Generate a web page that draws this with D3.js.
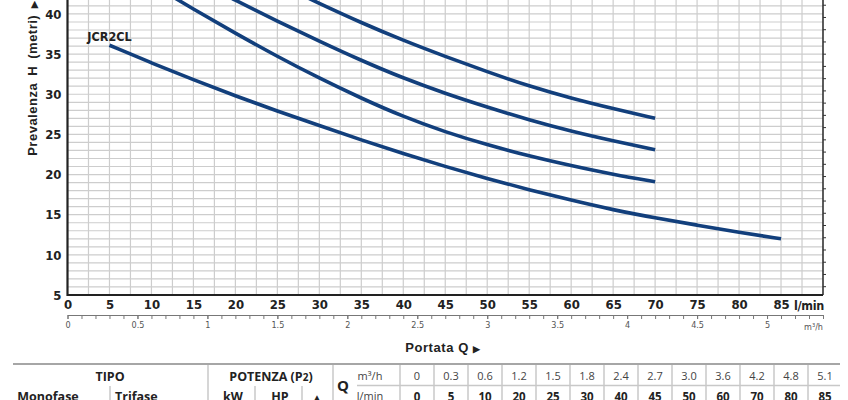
<!DOCTYPE html>
<html>
<head>
<meta charset="utf-8">
<script src="https://cdn.jsdelivr.net/npm/d3@7"></script>
<style>
body { margin: 0; background: white; }
</style>
</head>
<body>
<div id="vis"></div>
<script>
// curve values (flow in l/min, head in m)
const flowLong = [5, 10, 15, 20, 25, 30, 35, 40, 45, 50, 55, 60, 65, 70, 75, 80, 85];
const flowShort = [5, 10, 15, 20, 25, 30, 35, 40, 45, 50, 55, 60, 65, 70];
const headJCR2CL = [36.1, 33.9, 31.8, 29.8, 27.9, 26.1, 24.3, 22.6, 21.0, 19.5, 18.1, 16.8, 15.6, 14.6, 13.7, 12.8, 12.0];
const headCurveB = [46.9, 43.7, 40.6, 37.6, 34.7, 32.0, 29.5, 27.2, 25.3, 23.7, 22.3, 21.1, 20.0, 19.1];
const headCurveC = [50.3, 47.3, 44.4, 41.7, 39.1, 36.6, 34.2, 32.0, 30.1, 28.4, 26.8, 25.4, 24.2, 23.1];
const headCurveD = [54.8, 51.9, 49.1, 46.4, 43.8, 41.3, 38.9, 36.7, 34.7, 32.8, 31.0, 29.5, 28.2, 27.0];
const curveLabel = "JCR2CL";

// tick labels
const yTicks = [5, 10, 15, 20, 25, 30, 35, 40];
const xTicks = [0, 5, 10, 15, 20, 25, 30, 35, 40, 45, 50, 55, 60, 65, 70, 75, 80, 85];
const m3hTicks = [0, 0.5, 1, 1.5, 2, 2.5, 3, 3.5, 4, 4.5, 5];

// table below the chart
const tableM3h = ["0", "0.3", "0.6", "1.2", "1.5", "1.8", "2.4", "2.7", "3.0", "3.6", "4.2", "4.8", "5.1"];
const tableLmin = ["0", "5", "10", "20", "25", "30", "40", "45", "50", "60", "70", "80", "85"];

let width = 848;
let height = 400;

let plot = { left: 67.5, right: 823, bottom: 295 };

let svg = d3.select("#vis")
  .append("svg")
  .attr("width", width)
  .attr("height", height)
  .style("background", "white");

let narrow = "'Liberation Sans Narrow', 'Arial Narrow', 'DejaVu Sans Condensed', sans-serif";
let tableFont = "'Open Sans', 'Noto Sans', sans-serif";

// scales
let xScale = d3.scaleLinear()
  .domain([0, 90])
  .range([plot.left, plot.right]);

let yScale = d3.scaleLinear()
  .domain([5, 45])
  .range([plot.bottom, plot.bottom - 40 * 8.03]);

let m3Scale = d3.scaleLinear()
  .domain([0, 5.4])
  .range([plot.left, plot.right]);

let ftScale = d3.scaleLinear()
  .domain(yScale.domain().map(v => v / 0.3048))
  .range(yScale.range());

// grid
svg.append("g")
  .selectAll("line")
  .data(d3.range(2.5, 90, 2.5))
  .enter()
  .append("line")
  .attr("x1", d => xScale(d))
  .attr("x2", d => xScale(d))
  .attr("y1", yScale(45))
  .attr("y2", plot.bottom)
  .attr("stroke", "#cdcdcd")
  .attr("stroke-width", 1.2);

svg.append("g")
  .selectAll("line")
  .data(d3.range(6, 45, 1))
  .enter()
  .append("line")
  .attr("x1", plot.left)
  .attr("x2", plot.right)
  .attr("y1", d => yScale(d))
  .attr("y2", d => yScale(d))
  .attr("stroke", "#cdcdcd")
  .attr("stroke-width", 1.2);

// frame
svg.append("line")
  .attr("x1", plot.right).attr("x2", plot.right)
  .attr("y1", yScale(45)).attr("y2", plot.bottom)
  .attr("stroke", "#333").attr("stroke-width", 1.6);

svg.append("path")
  .attr("d", `M${plot.left},${yScale(45)}V${plot.bottom}H${plot.right}`)
  .attr("fill", "none")
  .attr("stroke", "#222")
  .attr("stroke-width", 2.2);

// small feet ticks on the right border
let ftAxis = svg.append("g")
  .attr("transform", `translate(${plot.right}, 0)`)
  .call(d3.axisRight(ftScale).tickValues(d3.range(20, 140, 5)).tickSize(3).tickFormat(""));
ftAxis.select(".domain").remove();
ftAxis.selectAll("line").attr("stroke", "#333");

// curves
let series = [
  { flow: flowLong, head: headJCR2CL },
  { flow: flowShort, head: headCurveB },
  { flow: flowShort, head: headCurveC },
  { flow: flowShort, head: headCurveD }
];

let line = d3.line()
  .x(d => xScale(d[0]))
  .y(d => yScale(d[1]))
  .curve(d3.curveBasis);

svg.append("g")
  .selectAll("path")
  .data(series)
  .enter()
  .append("path")
  .attr("d", s => line(d3.zip(s.flow, s.head)))
  .attr("fill", "none")
  .attr("stroke", "#123f7c")
  .attr("stroke-width", 3.6);

svg.append("text")
  .attr("x", xScale(flowLong[0]))
  .attr("y", yScale(headJCR2CL[0]) - 4)
  .attr("text-anchor", "middle")
  .style("font-family", narrow)
  .style("font-weight", "bold")
  .style("font-size", "12.5px")
  .style("fill", "#222")
  .text(curveLabel);

// y axis labels
let yAxis = svg.append("g")
  .attr("transform", `translate(${plot.left}, 0)`)
  .call(d3.axisLeft(yScale).tickValues(yTicks).tickSize(0).tickPadding(6));
yAxis.select(".domain").remove();
yAxis.selectAll("text")
  .style("font-family", narrow)
  .style("font-weight", "bold")
  .style("font-size", "13px")
  .style("fill", "#222");

// l/min axis labels
let xAxis = svg.append("g")
  .attr("transform", `translate(0, ${plot.bottom})`)
  .call(d3.axisBottom(xScale).tickValues(xTicks).tickSize(0).tickPadding(5));
xAxis.select(".domain").remove();
xAxis.selectAll("text")
  .style("font-family", narrow)
  .style("font-weight", "bold")
  .style("font-size", "13px")
  .style("fill", "#222");

svg.append("text")
  .attr("x", plot.right + 1)
  .attr("y", 309.5)
  .attr("text-anchor", "end")
  .style("font-family", narrow)
  .style("font-weight", "bold")
  .style("font-size", "12.5px")
  .style("letter-spacing", "-0.3px")
  .style("fill", "#222")
  .text("l/min");

// m3/h axis
let m3Minor = svg.append("g")
  .attr("transform", "translate(0, 315)")
  .call(d3.axisBottom(m3Scale).tickValues(d3.range(0, 5.45, 0.1)).tickSize(4).tickSizeOuter(0).tickFormat(""));
m3Minor.selectAll("line, path").attr("stroke", "#777").attr("stroke-width", 1);

let m3Axis = svg.append("g")
  .attr("transform", "translate(0, 315)")
  .call(d3.axisBottom(m3Scale).tickValues(m3hTicks).tickSize(4).tickPadding(3).tickFormat(d3.format("")));
m3Axis.select(".domain").remove();
m3Axis.selectAll("line").attr("stroke", "#777");
m3Axis.selectAll("text")
  .style("font-family", narrow)
  .style("font-size", "9px")
  .style("fill", "#555");

svg.append("text")
  .attr("x", plot.right)
  .attr("y", 330)
  .attr("text-anchor", "end")
  .style("font-family", narrow)
  .style("font-size", "9px")
  .style("fill", "#555")
  .text("m³/h");

// axis titles
let xTitle = svg.append("text")
  .attr("x", 443)
  .attr("y", 352)
  .attr("text-anchor", "middle")
  .style("font-family", "'Liberation Sans', Arial, sans-serif")
  .style("font-weight", "bold")
  .style("font-size", "13px")
  .style("letter-spacing", "0.6px")
  .style("fill", "#222");
xTitle.append("tspan").text("Portata Q ");
xTitle.append("tspan").style("font-size", "9px").text("▶");

let yTitle = svg.append("text")
  .attr("transform", "translate(37, 78) rotate(-90)")
  .attr("text-anchor", "middle")
  .style("font-family", "'Liberation Sans', Arial, sans-serif")
  .style("font-weight", "bold")
  .style("font-size", "13px")
  .style("letter-spacing", "0.5px")
  .style("word-spacing", "3px")
  .style("fill", "#222");
yTitle.append("tspan").text("Prevalenza H (metri) ");
yTitle.append("tspan").style("font-size", "9px").text("▶");

// table
let colScale = d3.scaleBand()
  .domain(d3.range(tableM3h.length))
  .range([400, 842]);

let table = svg.append("g");

table.append("line")
  .attr("x1", 13).attr("x2", 840)
  .attr("y1", 364).attr("y2", 364)
  .attr("stroke", "#a6a6a6").attr("stroke-width", 2);

table.append("line")
  .attr("x1", 357).attr("x2", 840)
  .attr("y1", 385.5).attr("y2", 385.5)
  .attr("stroke", "#c8c8c8").attr("stroke-width", 1.5);

let fullSeps = [208, 333, 400].concat(colScale.domain().slice(1).map(i => colScale(i)));
table.selectAll(".sep")
  .data(fullSeps)
  .enter()
  .append("line")
  .attr("x1", d => d).attr("x2", d => d)
  .attr("y1", 365).attr("y2", 400)
  .attr("stroke", "#c8c8c8").attr("stroke-width", 1.5);

table.selectAll(".sep2")
  .data([110, 255, 302])
  .enter()
  .append("line")
  .attr("x1", d => d).attr("x2", d => d)
  .attr("y1", 386).attr("y2", 400)
  .attr("stroke", "#c8c8c8").attr("stroke-width", 1.5);

function cell(x, y, txt, size, weight, anchor, color) {
  return table.append("text")
    .attr("x", x)
    .attr("y", y)
    .attr("text-anchor", anchor || "middle")
    .style("font-family", tableFont)
    .style("font-size", size + "px")
    .style("font-weight", weight)
    .style("fill", color || "#222")
    .text(txt);
}

cell(110, 380.5, "TIPO", 12.5, "bold");
let pot = cell(271, 380.5, "POTENZA (P", 12.5, "bold");
pot.append("tspan").style("font-size", "10px").text("2");
pot.append("tspan").text(")");
cell(343, 391, "Q", 15, "bold");
cell(370, 380, "m³/h", 11, "normal", "middle", "#444");
cell(370, 400, "l/min", 11, "normal", "middle", "#444");
cell(48, 400.5, "Monofase", 12.5, "bold");
cell(115, 400.5, "Trifase", 12.5, "bold", "start");
cell(233, 400.5, "kW", 12.5, "bold");
cell(280, 400.5, "HP", 12.5, "bold");
cell(317, 400.5, "▲", 10, "bold");

table.selectAll(".m3")
  .data(tableM3h)
  .enter()
  .append("text")
  .attr("x", (d, i) => colScale(i) + colScale.bandwidth() / 2)
  .attr("y", 380)
  .attr("text-anchor", "middle")
  .style("font-family", tableFont)
  .style("font-size", "11px")
  .style("fill", "#444")
  .text(d => d);

table.selectAll(".lmin")
  .data(tableLmin)
  .enter()
  .append("text")
  .attr("x", (d, i) => colScale(i) + colScale.bandwidth() / 2)
  .attr("y", 400.5)
  .attr("text-anchor", "middle")
  .style("font-family", tableFont)
  .style("font-size", "11.5px")
  .style("font-weight", "bold")
  .style("fill", "#222")
  .text(d => d);
</script>
</body>
</html>
